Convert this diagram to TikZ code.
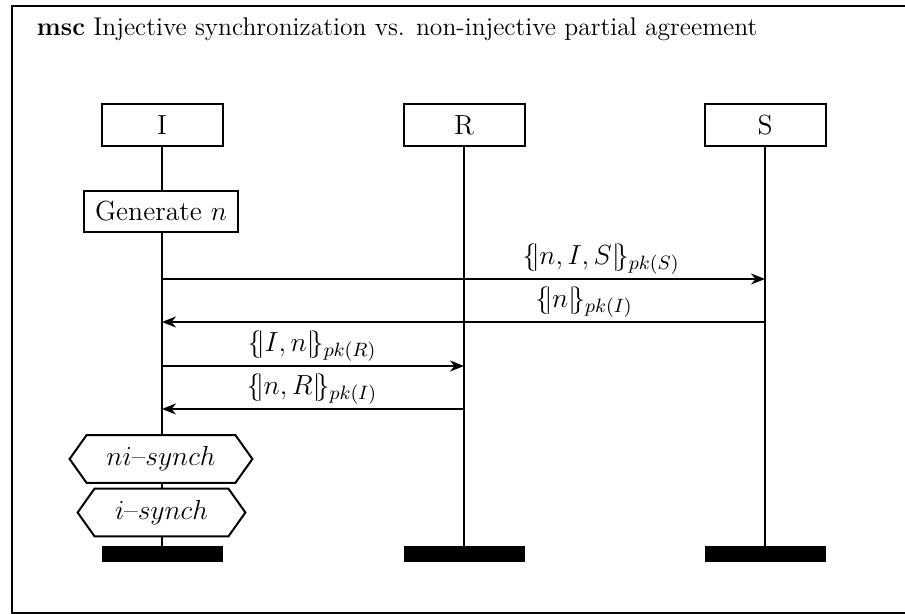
\documentclass[tikz,border=0pt]{standalone}
\usepackage{fix-cm}
\usetikzlibrary{arrows.meta}
\begin{document}
\begin{tikzpicture}[x=0.5pt,y=-0.5pt,
  every node/.style={font=\fontsize{13.8}{17}\selectfont},
  frameline/.style={line width=1pt},
  instbox/.style={draw,line width=1pt,fill=white,minimum width=60.5pt,minimum height=21pt,inner sep=0pt},
  actbox/.style={draw,line width=1pt,fill=white,minimum width=77pt,minimum height=20.5pt,inner sep=0pt},
  condtext/.style={inner sep=0pt,minimum height=23.5pt},
  condshape/.style={line width=1pt,fill=white},
  endbar/.style={fill=black,draw=none,minimum width=60.5pt,minimum height=8pt,inner sep=0pt},
  lifeline/.style={line width=1pt},
  msg/.style={line width=1pt,-{Stealth[length=7pt,width=5.5pt]}},
  msglabel/.style={anchor=south,inner sep=0pt}]
\useasboundingbox (0,0) rectangle (905,614);

% outer msc frame and title
\draw[frameline] (11.5,6) rectangle (940,613);
\node[anchor=base west,inner sep=0pt,font=\fontsize{12.8}{15}\selectfont] (title) at (36.5,35.5)
  {\textbf{msc} Injective synchronization vs. non-injective partial agreement};

% instance heads
\node[instbox] (I) at (162,125) {I};
\node[instbox] (R) at (464,125) {R};
\node[instbox] (S) at (765,125) {S};

% instance ends
\node[endbar] (Iend) at (162,554) {};
\node[endbar] (Rend) at (464,554) {};
\node[endbar] (Send) at (765,554) {};

% lifelines
\draw[lifeline] (I.south) -- (Iend.north);
\draw[lifeline] (R.south) -- (Rend.north);
\draw[lifeline] (S.south) -- (Send.north);

% local action
\node[actbox] (gen) at (161,211.5) {Generate $n$};

% messages
\draw[msg] (I |- 0,279) -- (S |- 0,279);
\node[msglabel] (l1) at (601,275) {$\{\!|n,I,S|\!\}_{pk(S)}$};
\draw[msg] (S |- 0,322) -- (I |- 0,322);
\node[msglabel] (l2) at (584,318) {$\{\!|n|\!\}_{pk(I)}$};
\draw[msg] (I |- 0,366) -- (R |- 0,366);
\node[msglabel] (l3) at (312,362) {$\{\!|I,n|\!\}_{pk(R)}$};
\draw[msg] (R |- 0,409) -- (I |- 0,409);
\node[msglabel] (l4) at (312,405) {$\{\!|n,R|\!\}_{pk(I)}$};

% conditions
\node[condtext,minimum width=74pt] (ni) at (161,459) {};
\draw[condshape] ([xshift=-8.5pt]ni.west) -- (ni.north west) -- (ni.north east)
  -- ([xshift=8.5pt]ni.east) -- (ni.south east) -- (ni.south west) -- cycle;
\node[condtext] at (ni) {$ni$--$synch$};
\node[condtext,minimum width=66.5pt] (inj) at (161.5,512.5) {};
\draw[condshape] ([xshift=-8.5pt]inj.west) -- (inj.north west) -- (inj.north east)
  -- ([xshift=8.5pt]inj.east) -- (inj.south east) -- (inj.south west) -- cycle;
\node[condtext] at (inj) {$i$--$synch$};
\end{tikzpicture}
\end{document}
